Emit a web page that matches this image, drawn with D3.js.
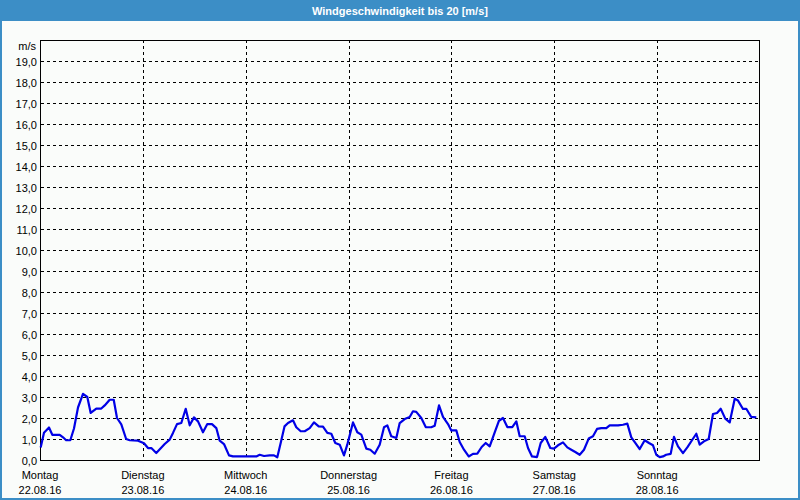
<!DOCTYPE html>
<html><head><meta charset="utf-8">
<script src="https://cdn.jsdelivr.net/npm/d3@7"></script>
<style>
html,body{margin:0;padding:0;background:#fafcfa;}
svg{display:block;}
text{font-family:"Liberation Sans",Arial,sans-serif;font-size:11px;fill:#000;}
</style></head>
<body>
<svg id="c" width="800" height="500"></svg>
<script>
const title = "Windgeschwindigkeit bis 20 [m/s]";
const unitLabel = "m/s";
const dayNames = ["Montag","Dienstag","Mittwoch","Donnerstag","Freitag","Samstag","Sonntag"];
const dayDates = ["22.08.16","23.08.16","24.08.16","25.08.16","26.08.16","27.08.16","28.08.16"];
const yTicks = [0,1,2,3,4,5,6,7,8,9,10,11,12,13,14,15,16,17,18,19];
// hours since Monday 00:00
const hours = [0.16,0.93,2.1,2.87,4.6,5.37,6.1,7.07,7.93,8.87,10.03,11.04,11.83,13.14,14.3,15.1,16.26,17.2,17.97,18.97,20.1,20.93,22.87,24.27,25.2,25.97,27.13,29.1,30.26,31.03,31.97,32.97,34.0,34.93,35.93,36.87,38.03,39.04,40.13,41.14,41.93,42.93,44.1,45.03,50.47,51.26,52.27,53.6,54.6,55.37,56.2,57.05,57.87,59.03,59.8,60.83,61.76,62.93,63.93,65.03,66.03,67.04,67.97,68.9,69.93,70.93,71.7,73.03,74.04,74.97,76.14,77.07,78.1,79.26,80.27,81.04,81.97,83.14,83.93,85.1,86.26,87.03,87.8,88.97,90.0,91.3,92.1,93.1,94.03,95.2,95.97,97.14,97.93,98.93,100.03,101.03,102.04,103.06,104.0,104.93,106.1,107.1,108.03,109.04,110.2,111.14,111.93,113.1,113.87,114.8,115.97,116.83,117.9,119.07,119.93,120.87,122.03,123.04,123.97,124.9,125.93,126.93,128.03,129.03,129.97,130.97,132.14,132.93,134.87,136.03,137.04,137.97,138.9,139.93,141.1,142.1,143.03,143.8,144.6,145.37,146.1,147.16,147.93,148.87,150.03,151.04,152.13,153.14,153.93,154.93,156.03,157.03,157.97,158.83,159.9,160.93,162.1,162.87,164.03,164.8,165.97,167.14];
const speeds = [0.6,1.3,1.55,1.2,1.2,1.08,0.94,0.94,1.5,2.5,3.15,3.0,2.24,2.45,2.45,2.6,2.87,2.87,2.0,1.7,1.0,0.94,0.92,0.8,0.57,0.57,0.33,0.76,0.97,1.29,1.71,1.76,2.44,1.65,2.03,1.84,1.32,1.71,1.71,1.52,0.92,0.76,0.22,0.17,0.17,0.25,0.19,0.22,0.22,0.13,0.85,1.6,1.76,1.89,1.56,1.37,1.37,1.52,1.79,1.6,1.59,1.29,1.25,0.81,0.73,0.22,0.73,1.79,1.32,1.21,0.54,0.49,0.3,0.73,1.56,1.65,1.13,1.05,1.76,1.95,2.05,2.32,2.29,2.0,1.57,1.56,1.63,2.6,2.05,1.71,1.41,1.41,0.86,0.49,0.17,0.29,0.3,0.62,0.81,0.65,1.32,1.87,2.0,1.57,1.57,1.84,1.13,1.13,0.57,0.17,0.14,0.81,1.1,0.57,0.54,0.7,0.84,0.6,0.49,0.38,0.25,0.49,1.02,1.13,1.48,1.52,1.52,1.65,1.65,1.68,1.73,1.08,0.81,0.52,0.94,0.81,0.7,0.25,0.14,0.17,0.25,0.29,1.1,0.65,0.33,0.6,0.94,1.25,0.73,0.89,1.0,2.19,2.24,2.44,1.97,1.79,2.92,2.83,2.43,2.44,2.05,2.03];

const svg = d3.select("#c");
const W = 800, H = 500;
const L = 40, R = 760, T = 40, B = 460;
const frame = "#3c8ec6";

svg.append("rect").attr("x",0).attr("y",0).attr("width",W).attr("height",H).attr("fill","#fafcfa");
// frame
svg.append("rect").attr("x",0).attr("y",0).attr("width",W).attr("height",21).attr("fill",frame);
svg.append("rect").attr("x",0).attr("y",0).attr("width",2).attr("height",H).attr("fill",frame);
svg.append("rect").attr("x",W-2).attr("y",0).attr("width",2).attr("height",H).attr("fill",frame);
svg.append("rect").attr("x",0).attr("y",H-2).attr("width",W).attr("height",2).attr("fill",frame);
svg.append("text").attr("x",W/2).attr("y",15).attr("text-anchor","middle")
  .style("fill","#fff").style("font-weight","bold").style("font-size","11px").text(title);

const x = d3.scaleLinear().domain([0,168]).range([L,R]);
const y = d3.scaleLinear().domain([0,20]).range([B,T]);

// horizontal grid
const g = svg.append("g");
g.selectAll("line.h").data(yTicks.filter(d=>d>0)).join("line")
  .attr("x1",L+1).attr("x2",R).attr("y1",d=>Math.round(y(d))+0.5).attr("y2",d=>Math.round(y(d))+0.5)
  .attr("stroke","#000").attr("stroke-dasharray","3,3").attr("stroke-width",1);
// vertical grid
g.selectAll("line.v").data(d3.range(1,7)).join("line")
  .attr("x1",d=>Math.round(x(d*24))+0.5).attr("x2",d=>Math.round(x(d*24))+0.5)
  .attr("y1",T).attr("y2",B)
  .attr("stroke","#000").attr("stroke-dasharray","3,3").attr("stroke-width",1);

// box
svg.append("rect").attr("x",L+0.5).attr("y",T+0.5).attr("width",R-L-1).attr("height",B-T)
  .attr("fill","none").attr("stroke","#000").attr("stroke-width",1);

// y labels
svg.selectAll("text.yl").data(yTicks).join("text").attr("class","yl")
  .attr("x",37).attr("y",d=>y(d)+4.5).attr("text-anchor","end")
  .text(d=>d3.format(".1f")(d).replace(".",","));
svg.append("text").attr("x",36).attr("y",50).attr("text-anchor","end").text(unitLabel);

// x labels
svg.selectAll("text.xd").data(dayNames).join("text").attr("class","xd")
  .attr("x",(d,i)=>x(i*24)).attr("y",479).attr("text-anchor","middle").text(d=>d);
svg.selectAll("text.xt").data(dayDates).join("text").attr("class","xt")
  .attr("x",(d,i)=>x(i*24)).attr("y",494).attr("text-anchor","middle").text(d=>d);

// line
const data = hours.map((h,i)=>({h, v:speeds[i]}));
svg.append("path").datum(data)
  .attr("d", d3.line().x(d=>x(d.h)).y(d=>y(d.v)))
  .attr("fill","none").attr("stroke","#0000e6").attr("stroke-width",2.2).attr("stroke-linejoin","round");
</script>
</body></html>
